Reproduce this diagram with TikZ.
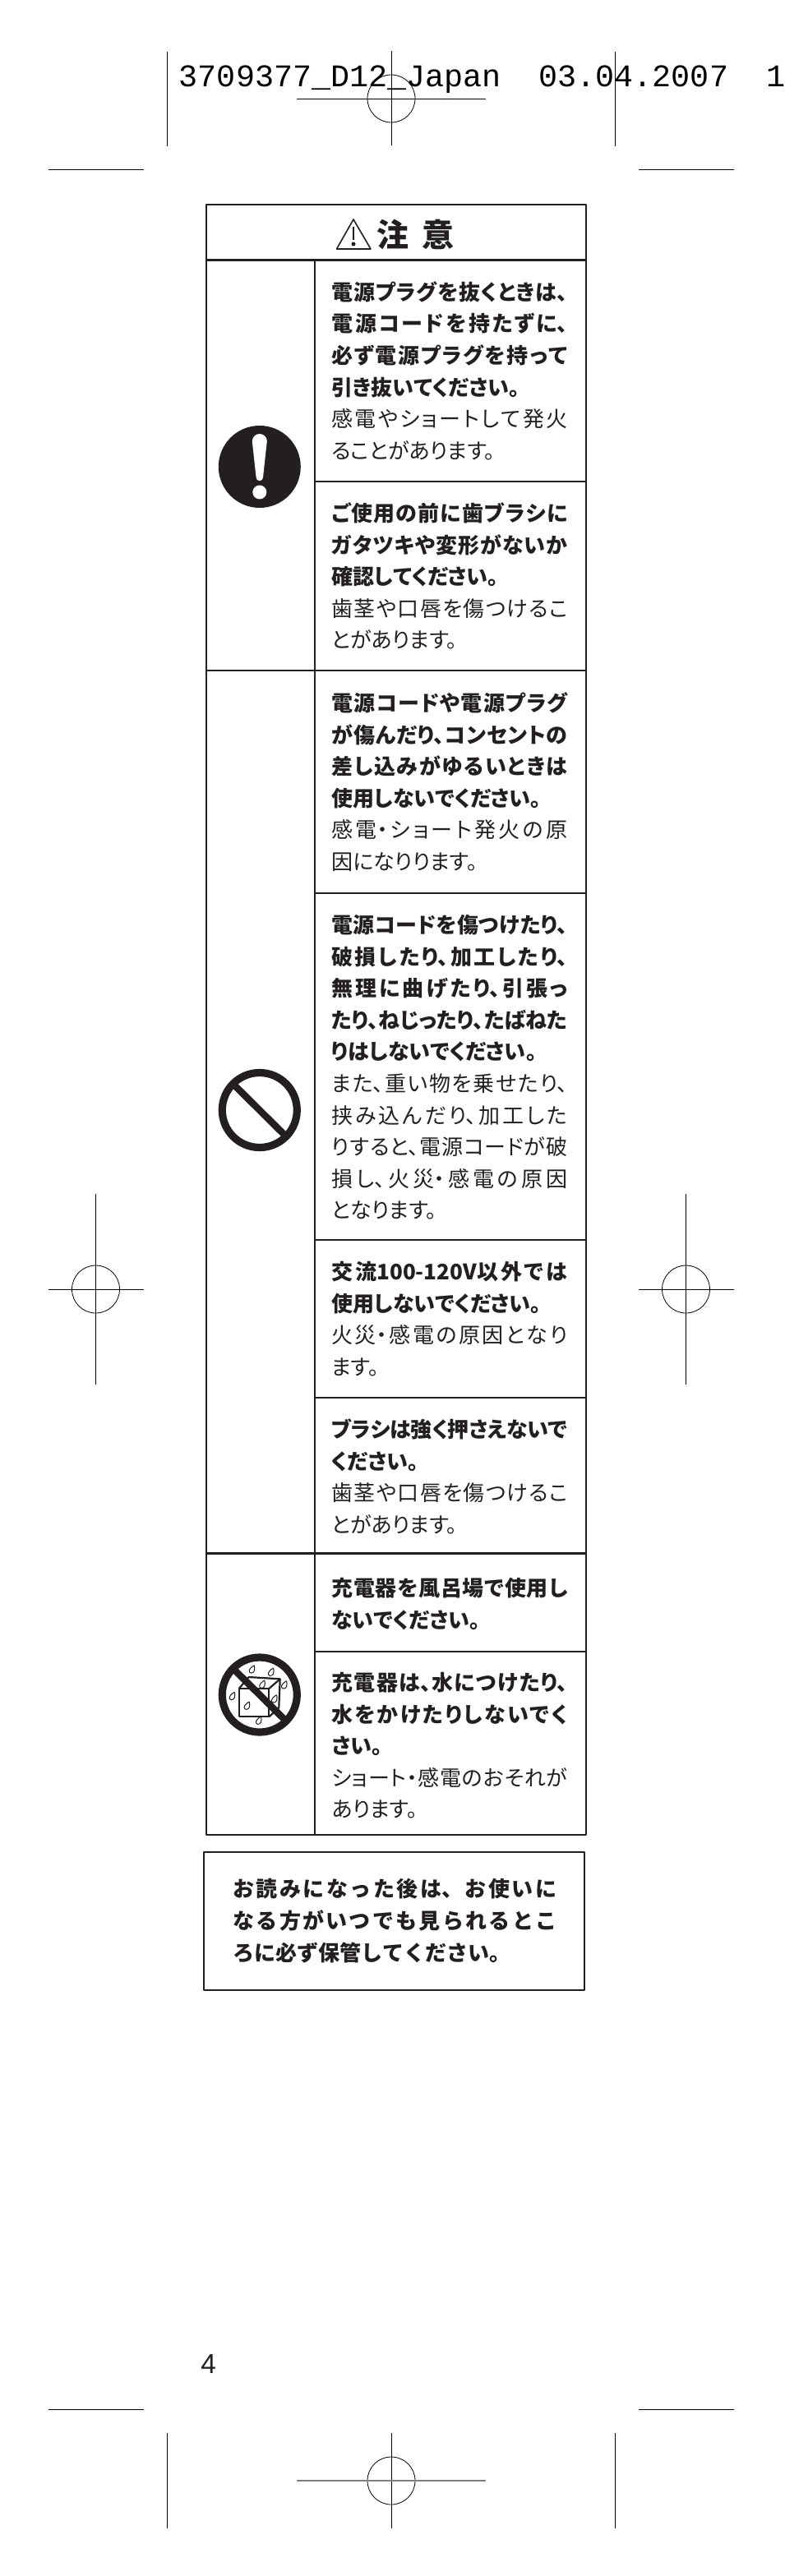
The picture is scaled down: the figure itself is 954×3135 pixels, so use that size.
\documentclass[tikz,border=0pt]{standalone}
\usepackage{fontspec}
\newfontfamily\jpfont[RawFeature=+palt]{Noto Sans CJK JP}
\newfontfamily\jpwide{Noto Sans CJK JP}
\newfontfamily\slugfont{Liberation Mono}
\newfontfamily\pagefont{Liberation Sans}
\definecolor{ink}{HTML}{231F20}
\XeTeXlinebreaklocale "ja"
\XeTeXlinebreakskip=0pt plus 8pt minus .6pt
\XeTeXlinebreakpenalty=10000
\hbadness=10000
\hfuzz=10pt
\newcommand{\lb}{\break}
\newcommand{\firstline}{\leavevmode\vrule width 0pt height 12pt depth 0pt\relax}
\begin{document}
\begin{tikzpicture}[x=.5pt,y=-.5pt,line join=round,line cap=butt,
		rulethin/.style={ink,line width=1pt},
		rulethick/.style={ink,line width=1.5pt},
		cell/.style={anchor=north west,inner sep=0pt,text width=143.5pt,align=justify,text=ink,
			font=\jpfont\fontsize{13}{19.3}\selectfont,
			execute at begin node={\setlength{\parindent}{0pt}\firstline}},
		regline/.style={black,line width=.4pt}]
		\useasboundingbox (0,0) rectangle (954,3135);
		\foreach \cx/\cy/\rx/\ry in {476/120/115/57.5,116.5/1569/58/116,834.5/1569/58/116,476/3019/115/58}{
			\draw[regline] (\cx-\rx,\cy)--(\cx+\rx,\cy);
			\draw[regline] (\cx,\cy-\ry)--(\cx,\cy+\ry);
			\draw[regline] (\cx,\cy) circle (29);
		}
		\draw[gray,line width=1pt] (361,3019)--(591,3019);
		\foreach \x in {203,748}{
			\draw[regline] (\x,63)--(\x,178);
			\draw[regline] (\x,2961)--(\x,3077);
		}
		\foreach \y in {206,2932}{
			\draw[regline] (59,\y)--(175,\y);
			\draw[regline] (777,\y)--(893,\y);
		}
		\node[anchor=base west,inner sep=0pt,font=\slugfont\fontsize{19.2}{20}\selectfont] (slug) at (217.5,106) {3709377\_D12\_Japan\ \ 03.04.2007\ \ 1};
		\node[anchor=base west,inner sep=0pt,text=ink,font=\pagefont\fontsize{16.7}{18}\selectfont] (pagenum) at (244,2888) {4};

		\draw[rulethin] (250.5,249) rectangle (713,2233);
		\draw[rulethick] (250.5,317)--(713,317);
		\draw[rulethick] (250.5,1890.5)--(713,1890.5);
		\draw[rulethin] (250.5,815.5)--(713,815.5);
		\draw[rulethin] (383,317)--(383,2233);
		\foreach \y in {586,1087,1509,1701,2010}\draw[rulethin] (383,\y)--(713,\y);
		\draw[rulethin] (248,2254) rectangle (711,2422);

		\draw[ink,line width=.8pt] (430,267)--(409.5,303)--(451,303)--cycle;
		\draw[ink,line width=1.2pt] (430,276)--(430,292);
		\fill[ink] (430,297) circle (2.5);
		\node[inner sep=0pt,text=ink,font=\jpwide\bfseries\fontsize{19.5}{20}\selectfont] (title) at (505.5,285) {注\hspace{8pt}意};

		\node[cell] (plug) at (403,341) {{\bfseries 電源プラグを抜くときは、\lb 電源コードを持たずに、\lb 必ず電源プラグを持って\lb 引き抜いてください。\par}感電やショートして発火\lb ることがあります。};
		\node[cell] (check) at (403,610) {{\bfseries ご使用の前に歯ブラシに\lb ガタツキや変形がないか\lb 確認してください。\par}歯茎や口唇を傷つけるこ\lb とがあります。};
		\node[cell] (damage) at (403,841) {{\bfseries 電源コードや電源プラグ\lb が傷んだり、コンセントの\lb 差し込みがゆるいときは\lb 使用しないでください。\par}感電・ショート発火の原\lb 因になりります。};
		\node[cell] (cord) at (403,1111) {{\bfseries 電源コードを傷つけたり、\lb 破損したり、加工したり、\lb 無理に曲げたり、引張っ\lb たり、ねじったり、たばねた\lb りはしないでください。\par}また、重い物を乗せたり、\lb 挟み込んだり、加工した\lb りすると、電源コードが破\lb 損し、火災・感電の原因\lb となります。};
		\node[cell] (volt) at (403,1533) {{\bfseries 交流\mbox{100-120V}以外では\lb 使用しないでください。\par}火災・感電の原因となり\lb ます。};
		\node[cell] (brush) at (403,1725) {{\bfseries ブラシは強く押さえないで\lb ください。\par}歯茎や口唇を傷つけるこ\lb とがあります。};
		\node[cell] (bath) at (403,1918) {{\bfseries 充電器を風呂場で使用し\lb ないでください。}};
		\node[cell] (water) at (403,2033) {{\bfseries 充電器は、水につけたり、\lb 水をかけたりしないでく\lb さい。\par}ショート・感電のおそれが\lb あります。};
		\node[cell,text width=197pt,font=\jpwide\bfseries\fontsize{13}{19.5}\selectfont] (keep) at (283,2284) {お読みになった後は、お使いに\lb なる方がいつでも見られるとこ\lb ろに必ず保管してください。};

		\fill[ink] (315.8,568) circle (50);
		\fill[white] (306.8,537) arc (180:360:9)--(320,581) arc (0:180:4.2)--cycle;
		\fill[white] (315.8,599) circle (8.5);

		\draw[ink,line width=4.6pt] (315.8,1351) circle (45.5);
		\draw[ink,line width=4.2pt] (284,1319.5)--(347.5,1382.5);

		\draw[ink,line width=1.1pt] (290.7,2055) rectangle (327.3,2089.3);
		\draw[ink,line width=1.1pt] (290.7,2055)--(302.7,2041)--(340.7,2043.3)--(339.3,2078.3)--(327.3,2089.3);
		\draw[ink,line width=1.1pt] (327.3,2055)--(340.7,2043.3);
		\foreach \dx/\dy in {306.7/2031.7,330/2035,319.3/2050,346/2050.7,282.7/2064.3,334/2067.7,300.7/2076,315/2094}
			\draw[ink,fill=white,line width=.5pt,shift={(\dx,\dy)}] (2.5,-5) .. controls (-1,-3) and (-4,0) .. (-3.5,2.5) .. controls (-3,5) and (1,5) .. (2.5,2) .. controls (3.5,-.5) and (3,-3) .. (2.5,-5);
		\draw[ink,line width=4.6pt] (315.8,2062.5) circle (45.5);
		\draw[ink,line width=4.2pt] (284,2031)--(347.5,2094);
	\end{tikzpicture}
\end{document}
